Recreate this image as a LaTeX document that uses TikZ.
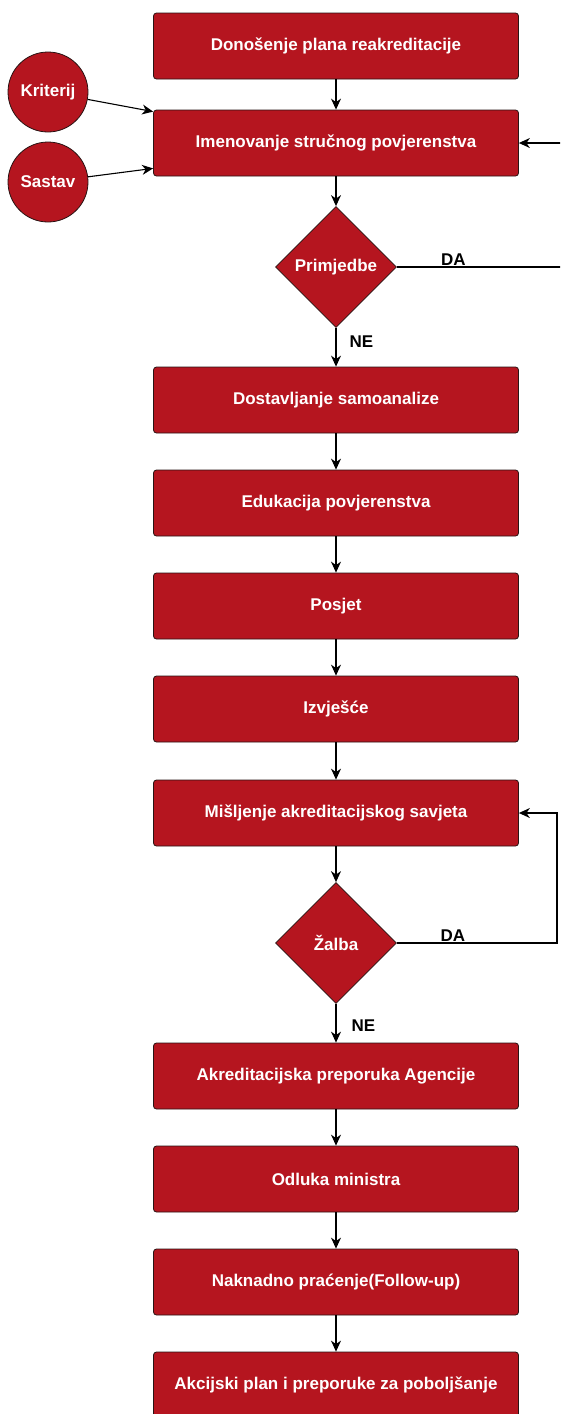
\documentclass[tikz,border=0pt]{standalone}
\usepackage{fontspec}
\setmainfont{Liberation Sans}
\usetikzlibrary{shapes.geometric,arrows.meta}
\definecolor{boxred}{RGB}{181,21,31}
\definecolor{edgedark}{RGB}{40,20,20}
\tikzset{
  stepbox/.style={draw=edgedark, line width=0.8pt, fill=boxred, rounded corners=3pt,
    minimum width=365pt, minimum height=66pt, inner sep=0pt, text=white,
    font=\fontsize{17}{19}\selectfont\bfseries},
  decide/.style={draw=edgedark, line width=0.8pt, fill=boxred, diamond, aspect=1,
    minimum width=121pt, minimum height=121pt, inner sep=0pt, text=white,
    font=\fontsize{17}{19}\selectfont\bfseries},
  inbubble/.style={draw=edgedark, line width=0.8pt, fill=boxred, circle,
    minimum size=80pt, inner sep=0pt, text=white,
    font=\fontsize{17}{19}\selectfont\bfseries},
  conn/.style={draw=black, line width=1.1pt, -{Stealth[length=11pt,width=10pt,inset=3.5pt]}},
  lbl/.style={font=\fontsize{17}{19}\selectfont\bfseries, text=black, inner sep=1pt}
}
\begin{document}
\begin{tikzpicture}[x=1pt,y=-1pt]
\useasboundingbox (0,0) rectangle (560,1414);
\clip (0,0) rectangle (560,1414);
\node[stepbox] (b1) at (336,46) {Donošenje plana reakreditacije};
\node[stepbox] (b2) at (336,143) {Imenovanje stručnog povjerenstva};
\node[decide] (d1) at (336,267) {Primjedbe};
\node[stepbox] (b3) at (336,400) {Dostavljanje samoanalize};
\node[stepbox] (b4) at (336,503) {Edukacija povjerenstva};
\node[stepbox] (b5) at (336,606) {Posjet};
\node[stepbox] (b6) at (336,709) {Izvješće};
\node[stepbox] (b7) at (336,813) {Mišljenje akreditacijskog savjeta};
\node[decide] (d2) at (336,943) {Žalba};
\node[stepbox] (b8) at (336,1076) {Akreditacijska preporuka Agencije};
\node[stepbox] (b9) at (336,1179) {Odluka ministra};
\node[stepbox] (b10) at (336,1282) {Naknadno praćenje(Follow-up)};
\node[stepbox] (b11) at (336,1385) {Akcijski plan i preporuke za poboljšanje};
\node[inbubble] (c1) at (48,92) {Kriterij};
\node[inbubble] (c2) at (48,182) {Sastav};
\coordinate (r1) at (563,267);
\coordinate (r2) at (557,943);
\draw[conn] (b1) -- (b2);
\draw[conn] (b2) -- (d1);
\draw[conn] (d1) -- node[lbl, right=12pt, pos=0.36] {NE} (b3);
\draw[conn] (b3) -- (b4);
\draw[conn] (b4) -- (b5);
\draw[conn] (b5) -- (b6);
\draw[conn] (b6) -- (b7);
\draw[conn] (b7) -- (d2);
\draw[conn] (d2) -- node[lbl, right=14pt, pos=0.56] {NE} (b8);
\draw[conn] (b8) -- (b9);
\draw[conn] (b9) -- (b10);
\draw[conn] (b10) -- (b11);
\draw[conn] (c1) -- ([yshift=-2pt]b2.north west);
\draw[conn] (c2) -- ([yshift=8pt]b2.south west);
\draw[conn] (d1.east) -- node[lbl, above, pos=0.34] {DA} (r1) |- (b2.east);
\draw[conn] (d2.east) -- node[lbl, above, pos=0.35] {DA} (r2) |- (b7.east);
\end{tikzpicture}
\end{document}
